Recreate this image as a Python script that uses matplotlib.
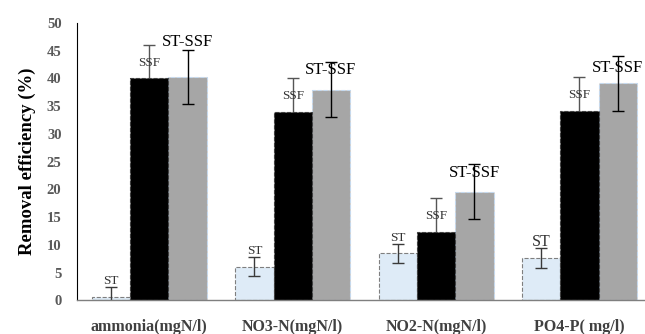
import numpy as np
import matplotlib.pyplot as plt

# データ
categories = ['ammonia(mgN/l)', 'NO3-N(mgN/l)', 'NO2-N(mgN/l)', 'PO4-P( mg/l)']
st = [0.7, 6.1, 8.5, 7.7]
ssf = [40.0, 34.0, 12.4, 34.2]
st_ssf = [40.3, 38.0, 19.6, 39.1]
st_err = [1.8, 1.7, 1.7, 1.8]
ssf_err = [6.0, 6.0, 6.0, 6.0]
st_ssf_err = [4.9, 4.9, 4.9, 4.9]
yticks = [0, 5, 10, 15, 20, 25, 30, 35, 40, 45, 50]

serif = ['Liberation Serif', 'DejaVu Serif']
plt.rcParams['font.family'] = serif

fig = plt.figure(figsize=(6.45, 3.34), dpi=100)
ax = fig.add_axes([0.119, 0.1003, 0.881, 0.831])

x = np.arange(len(categories))
w = 0.267

ekw = dict(ecolor='#3a3a3a', elinewidth=1.0, capsize=4, capthick=1.0)
ax.bar(x - w, st, w, yerr=st_err, color='#deebf7', edgecolor='#7f7f7f',
       linestyle='--', linewidth=0.8, error_kw=ekw)
# SSFの誤差棒は棒の後ろに描く（下半分は黒い棒に隠れる）
ax.bar(x, ssf, w, yerr=ssf_err, color='black', edgecolor='#404040',
       linestyle='--', linewidth=0.8, zorder=2,
       error_kw=dict(ekw, ecolor='#555555', zorder=1))
ax.bar(x + w, st_ssf, w, yerr=st_ssf_err, color='#a6a6a6', edgecolor='#c5d9ee',
       linestyle='--', linewidth=0.8, error_kw=dict(ekw, ecolor='black'))

# ラベル
st_size = [9.5, 9.5, 9.5, 11.5]
for i in range(len(categories)):
    ax.text(x[i] - w, st[i] + 2.8, 'ST', ha='center', va='center',
            fontsize=st_size[i], color='#333333')
    ax.text(x[i], ssf[i] + 2.75, 'SSF', ha='center', va='center',
            fontsize=9.5, color='#333333')
sts_dy = [6.3, 3.5, 3.4, 2.8]
for i in range(len(categories)):
    ax.text(x[i] + w, st_ssf[i] + sts_dy[i], 'ST-SSF', ha='center', va='center',
            fontsize=12, color='black')

ax.set_xlim(-0.506, 3.457)
ax.set_ylim(0, 50)
ax.set_yticks(yticks)
ax.set_xticks(x)
ax.set_xticklabels(categories, fontsize=11.5, fontweight='bold', color='#404040')
ax.tick_params(axis='y', labelsize=10.5, length=0, pad=11, labelcolor='#595959')
ax.tick_params(axis='x', length=0, pad=13)
for lab in ax.get_yticklabels():
    lab.set_fontweight('bold')

ax.set_ylabel('Removal efficiency (%)', fontsize=13.5, fontweight='bold', labelpad=8)

ax.spines['top'].set_visible(False)
ax.spines['right'].set_visible(False)
ax.spines['left'].set_color('black')
ax.spines['left'].set_linewidth(0.8)
ax.spines['bottom'].set_color('#7f7f7f')
ax.spines['bottom'].set_linewidth(1.0)

fig.savefig('out.png', dpi=100)
